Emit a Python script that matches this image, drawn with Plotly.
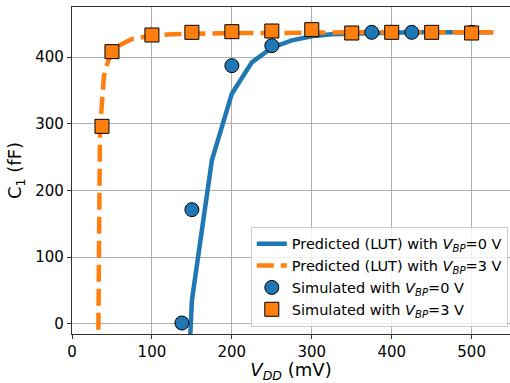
import plotly.graph_objects as go

# Predicted (LUT) curves
lut0_x = [147.5, 150, 175, 200, 225, 250, 275, 300, 325, 350, 375, 400, 425, 450, 475, 500, 527]
lut0_y = [-30, 35, 245, 345, 392, 414, 425, 431, 434, 435, 436, 437, 437, 437, 437, 437, 437]

lut3_x = [33, 35, 40, 45, 50, 60, 75, 100, 125, 150, 200, 250, 300, 350, 400, 450, 500, 527]
lut3_y = [-9, 290, 372, 393, 407, 418, 427, 432, 434, 435, 436, 436, 437, 437, 437, 437, 437, 437]

# Simulated points
sim0_x = [137.5, 150, 200, 250, 375, 425, 500]
sim0_y = [1, 171, 387, 417, 437, 437, 437]

sim3_x = [37.5, 50, 100, 150, 200, 250, 300, 350, 400, 450, 500]
sim3_y = [296, 408, 433, 437, 438, 439, 441, 436, 437, 437, 436]

xticks = [0, 100, 200, 300, 400, 500]
yticks = [0, 100, 200, 300, 400]

BLUE = "#1f77b4"
ORANGE = "#ff7f0e"
FONT = "DejaVu Sans"

fig = go.Figure()
fig.add_trace(go.Scatter(x=lut0_x, y=lut0_y, mode="lines",
                         line=dict(color=BLUE, width=4.5),
                         name="Predicted (LUT) with <i>V</i><sub><i>BP</i></sub>=0 V"))
fig.add_trace(go.Scatter(x=lut3_x, y=lut3_y, mode="lines",
                         line=dict(color=ORANGE, width=4.5, dash="17px,7px"),
                         name="Predicted (LUT) with <i>V</i><sub><i>BP</i></sub>=3 V"))
fig.add_trace(go.Scatter(x=sim0_x, y=sim0_y, mode="markers",
                         marker=dict(color=BLUE, size=14, symbol="circle",
                                     line=dict(color="black", width=1)),
                         name="Simulated with <i>V</i><sub><i>BP</i></sub>=0 V"))
fig.add_trace(go.Scatter(x=sim3_x, y=sim3_y, mode="markers",
                         marker=dict(color=ORANGE, size=14, symbol="square",
                                     line=dict(color="black", width=1)),
                         name="Simulated with <i>V</i><sub><i>BP</i></sub>=3 V"))

fig.update_layout(
    width=510, height=383,
    margin=dict(l=72, r=0, t=7, b=49, autoexpand=False),
    paper_bgcolor="white", plot_bgcolor="white",
    font=dict(family=FONT, size=14.5, color="black"),
    showlegend=True,
    legend=dict(x=0.995, y=0.022, xanchor="right", yanchor="bottom",
                bgcolor="rgba(255,255,255,0.8)", bordercolor="#cccccc", borderwidth=1,
                font=dict(family=FONT, size=14.5), itemwidth=30),
    xaxis=dict(range=[0, 548], tickvals=xticks, ticktext=[str(v) for v in xticks],
               showgrid=True, gridcolor="#b0b0b0", gridwidth=1,
               showline=True, linecolor="#333333", linewidth=1.2, mirror=True,
               ticks="outside", ticklen=4, tickcolor="#333333", zeroline=False,
               tickfont=dict(size=15), automargin=False,
               title=dict(text="<i>V</i><sub><i>DD</i></sub> (mV)", font=dict(size=18), standoff=3)),
    yaxis=dict(range=[-15.5, 475], tickvals=yticks, ticktext=[str(v) for v in yticks],
               showgrid=True, gridcolor="#b0b0b0", gridwidth=1,
               showline=True, linecolor="#333333", linewidth=1.2, mirror=False,
               ticks="outside", ticklen=4, tickcolor="#333333", zeroline=False,
               tickfont=dict(size=15), automargin=False,
               title=dict(text="C<sub>1</sub> (fF)", font=dict(size=18), standoff=8)),
)

fig.write_html("out.html", config={"displayModeBar": False},
               post_script="document.body.style.margin='0';document.body.style.overflow='hidden';")
